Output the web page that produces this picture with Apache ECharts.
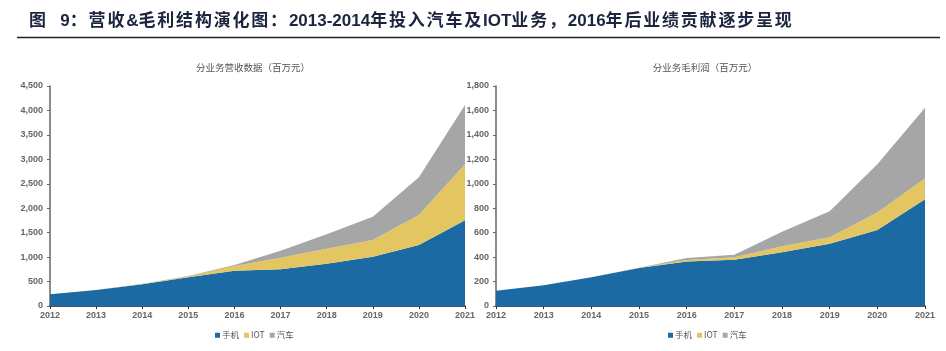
<!DOCTYPE html>
<html>
<head>
<meta charset="utf-8">
<script src="https://cdn.jsdelivr.net/npm/echarts@6/dist/echarts.min.js"></script>
<style>
  html, body { margin: 0; padding: 0; background: #fff; }
  .wrap { position: relative; width: 946px; height: 351px; }
  #chart { width: 946px; height: 351px; }
  .head {
    position: absolute; left: 29px; top: 10px;
    font-family: "Liberation Sans", "Noto Sans CJK SC", sans-serif;
    font-size: 17px; font-weight: bold;
    color: #1c2540; white-space: nowrap; line-height: 22px;
  }
  .head .cn { letter-spacing: 1.8px; }
  .head .gap { margin-right: 6px; }
</style>
</head>
<body>
<div class="wrap">
  <div id="chart"></div>
  <div class="head"><span class="cn gap">图&nbsp;</span>9<span class="cn">：营收</span>&amp;<span class="cn">毛利结构演化图：</span>2013-2014<span class="cn">年投入汽车及</span>IOT<span class="cn">业务，</span>2016<span class="cn">年后业绩贡献逐步呈现</span></div>
</div>
<script>
// 年份
var years = ['2012', '2013', '2014', '2015', '2016', '2017', '2018', '2019', '2020', '2021'];
var seriesNames = ['手机', 'IOT', '汽车'];

// 分业务营收（百万元）
var revPhone = [240, 327, 443, 587, 723, 750, 866, 1008, 1247, 1752];
var revIot   = [0, 0, 10, 15, 95, 238, 306, 342, 614, 1146];
var revCar   = [0, 0, 0, 10, 20, 143, 294, 476, 771, 1212];

// 分业务毛利润（百万元）
var gpPhone = [125, 169, 235, 311, 365, 379, 439, 510, 622, 873];
var gpIot   = [0, 0, 0, 2, 11, 19, 50, 52, 144, 172];
var gpCar   = [0, 0, 0, 0, 17, 22, 119, 213, 393, 578];

var colors = ['#1C6AA4', '#E3C661', '#A6A6A6'];
var fontCn = '"Noto Sans CJK SC", "Liberation Sans", sans-serif';

var chart = echarts.init(document.getElementById('chart'));

function thousands(v) {
  return String(v).replace(/\B(?=(\d{3})+(?!\d))/g, ',');
}

function xAxisCfg(idx) {
  return {
    type: 'category',
    gridIndex: idx,
    data: years,
    boundaryGap: false,
    axisLine: { lineStyle: { color: '#1a1a2e', width: 1.5 } },
    axisTick: { show: true, length: 3, lineStyle: { color: '#333' } },
    axisLabel: { color: '#666', fontSize: 9, fontWeight: 'bold', fontFamily: 'Liberation Sans', margin: 5 }
  };
}

function yAxisCfg(idx, max, interval) {
  return {
    type: 'value',
    gridIndex: idx,
    min: 0,
    max: max,
    interval: interval,
    splitLine: { show: false },
    axisLine: { show: true, lineStyle: { color: '#666', width: 1.5 } },
    axisTick: { show: true, length: 3, lineStyle: { color: '#666' } },
    axisLabel: { color: '#666', fontSize: 9, fontWeight: 'bold', fontFamily: 'Liberation Sans', margin: 7, formatter: thousands }
  };
}

function areaSeries(name, data, idx, stack, color) {
  return {
    name: name,
    type: 'line',
    xAxisIndex: idx,
    yAxisIndex: idx,
    stack: stack,
    data: data,
    symbol: 'none',
    lineStyle: { width: 0 },
    areaStyle: { color: color, opacity: 1 },
    itemStyle: { color: color },
    animation: false
  };
}

function legendCfg(left) {
  return {
    data: seriesNames,
    left: left, top: 331, orient: 'horizontal', padding: 0,
    icon: 'rect', itemWidth: 5, itemHeight: 5, itemGap: 5,
    textStyle: { fontFamily: fontCn, fontSize: 8.5, color: '#555', padding: [0, 0, 0, -3] },
    selectedMode: false
  };
}

chart.setOption({
  animation: false,
  title: [
    {
      text: '分业务营收数据（百万元）',
      left: 248, top: 58, textAlign: 'center',
      textStyle: { fontFamily: fontCn, fontSize: 9.5, fontWeight: 'normal', color: '#555' }
    },
    {
      text: '分业务毛利润（百万元）',
      left: 700, top: 58, textAlign: 'center',
      textStyle: { fontFamily: fontCn, fontSize: 9.5, fontWeight: 'normal', color: '#555' }
    }
  ],
  graphic: [
    {
      type: 'line',
      shape: { x1: 17, y1: 37.5, x2: 940, y2: 37.5 },
      style: { stroke: '#222', lineWidth: 1.5 }
    }
  ],
  legend: [legendCfg(215), legendCfg(668)],
  grid: [
    { left: 50, right: 481, top: 86, bottom: 45 },
    { left: 496, right: 21, top: 86, bottom: 45 }
  ],
  xAxis: [xAxisCfg(0), xAxisCfg(1)],
  yAxis: [yAxisCfg(0, 4500, 500), yAxisCfg(1, 1800, 200)],
  series: [
    areaSeries('手机', revPhone, 0, 'rev', colors[0]),
    areaSeries('IOT', revIot, 0, 'rev', colors[1]),
    areaSeries('汽车', revCar, 0, 'rev', colors[2]),
    areaSeries('手机', gpPhone, 1, 'gp', colors[0]),
    areaSeries('IOT', gpIot, 1, 'gp', colors[1]),
    areaSeries('汽车', gpCar, 1, 'gp', colors[2])
  ]
});
</script>
</body>
</html>
